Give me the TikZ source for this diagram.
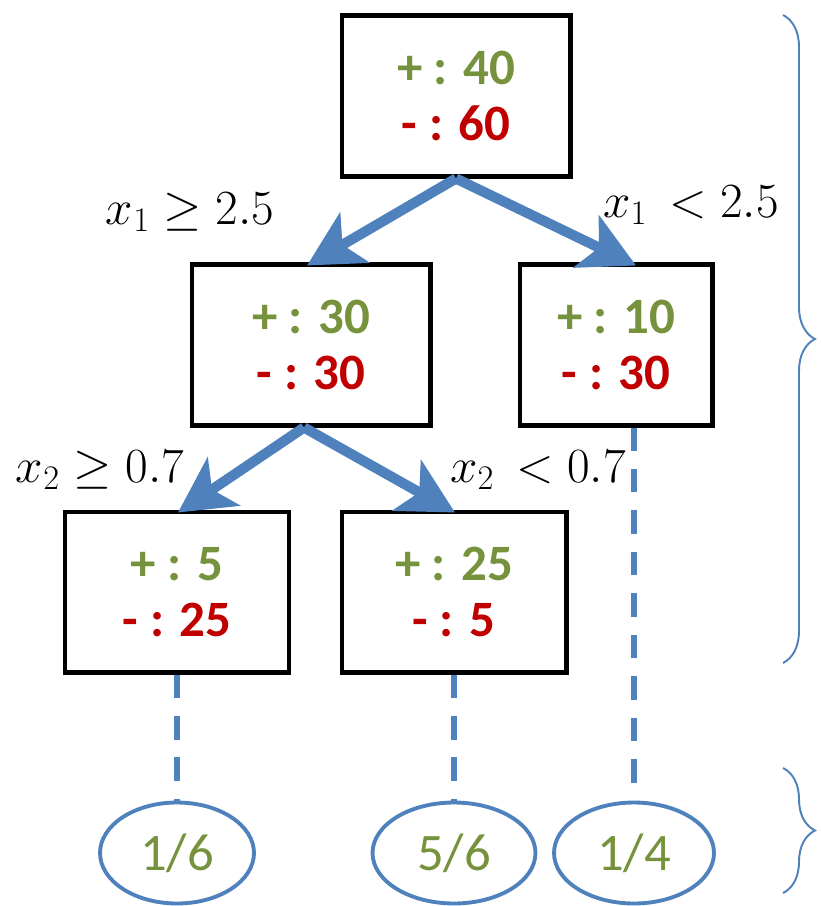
\documentclass[tikz,border=0pt]{standalone}
\usepackage{fix-cm}
\usepackage{fontspec}
\setmainfont{Carlito}
\usetikzlibrary{arrows.meta, positioning, calc, shapes.geometric,
                decorations.pathreplacing}
\definecolor{dtBlue}{RGB}{79,129,189}
\definecolor{dtGreen}{RGB}{118,146,60}
\definecolor{dtRed}{RGB}{192,0,0}

\begin{document}
\begin{tikzpicture}[x=0.02cm,y=-0.02cm,
  splitbox/.style={draw=black,line width=2.3pt,minimum height=3.22cm,
                   align=center,inner sep=0pt,
                   font=\fontsize{29}{32}\selectfont\bfseries},
  leaf/.style={ellipse,draw=dtBlue,line width=2.2pt,inner sep=0pt,
               minimum height=2.02cm,text=dtGreen,
               font=\fontsize{30}{32}\selectfont},
  cond/.style={font=\fontsize{28}{32}\selectfont,inner sep=0pt},
  branch/.style={-{Stealth[length=1.1cm,width=1.15cm,inset=0.28cm]},
                 line width=5.8pt,draw=dtBlue},
  leafline/.style={draw=dtBlue,line width=3.4pt,
                   dash pattern=on 0.47cm off 0.36cm},
  sidebrace/.style={draw=dtBlue,line width=1.1pt,
                    decorate,decoration={brace,amplitude=0.64cm}}]
\useasboundingbox (0,0) rectangle (821,906);

% ===== tree nodes =====
\node[splitbox,minimum width=4.58cm] (root) at (456,96)
   {\textcolor{dtGreen}{+ : 40}\\\textcolor{dtRed}{- : 60}};
\node[splitbox,minimum width=4.78cm] (ml) at (311,345)
   {\textcolor{dtGreen}{+ : 30}\\\textcolor{dtRed}{- : 30}};
\node[splitbox,minimum width=3.86cm] (mr) at (616,345)
   {\textcolor{dtGreen}{+ : 10}\\\textcolor{dtRed}{- : 30}};
\node[splitbox,minimum width=4.48cm] (bl) at (177,592)
   {\textcolor{dtGreen}{+ : 5}\\\textcolor{dtRed}{- : 25}};
\node[splitbox,minimum width=4.50cm] (bm) at (454,592)
   {\textcolor{dtGreen}{+ : 25}\\\textcolor{dtRed}{- : 5}};

% ===== leaves =====
\node[leaf,minimum width=3.08cm] (l1) at (177,853) {1/6};
\node[leaf,minimum width=3.26cm] (l2) at (454,853) {5/6};
\node[leaf,minimum width=3.20cm] (l3) at (634,853) {1/4};

% ===== split conditions =====
\node[cond] (c1) at (190,212) {$x_1 \geq 2.5$};
\node[cond] (c2) at (691,205) {$x_1\, < 2.5$};
\node[cond] (c3) at (100,470) {$x_2 \geq 0.7$};
\node[cond] (c4) at (538,470) {$x_2\, < 0.7$};

% arrows between boxes
\draw[branch] (root.south) -- ($(ml.north)+(-4,3)$);
\draw[branch] (root.south) -- ($(mr.north)+(20,3)$);
\draw[branch] ($(ml.south)+(-7,0)$) -- ($(bl.north)+(1,3)$);
\draw[branch] ($(ml.south)+(-7,0)$) -- ($(bm.north)+(1,3)$);

% dashed lines down to the leaves
\draw[leafline] (bl.south) -- (l1.north);
\draw[leafline] (bm.south) -- (l2.north);
\draw[leafline] (mr.south -| l3.north) -- (l3.north);

% braces on the right
\draw[sidebrace] (783,15) -- (783,663);
\draw[sidebrace] (783,768) -- (783,893);
\end{tikzpicture}
\end{document}
